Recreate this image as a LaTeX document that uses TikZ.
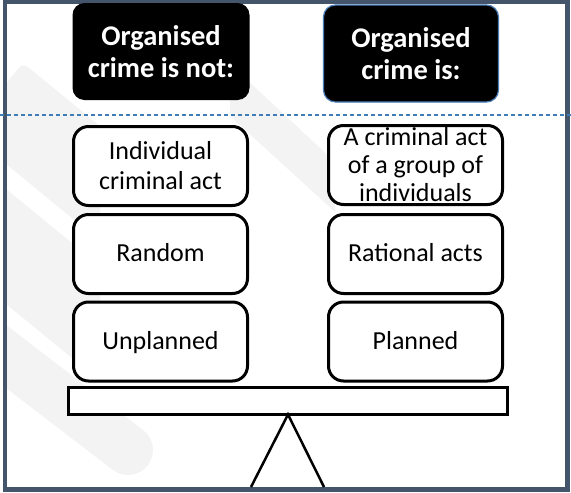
\documentclass[tikz,border=0pt]{standalone}
\usepackage{fontspec}
\setmainfont{Carlito}
\definecolor{framecol}{HTML}{44546A}
\definecolor{dashcol}{HTML}{3E7DB8}
\definecolor{wmcol}{HTML}{F3F3F3}
\definecolor{boxblue}{HTML}{4A7EBB}
\begin{document}
\begin{tikzpicture}[x=1pt,y=-1pt,
  wbox/.style={draw=black, line width=3pt, rounded corners=15pt, fill=white,
    minimum width=174pt, minimum height=79pt, align=center, inner sep=0pt,
    font=\fontsize{26}{30}\selectfont},
  oneline/.style={text height=19.5pt, text depth=4.5pt},
  bbox/.style={fill=black, rounded corners=12pt, text=white, inner sep=0pt,
    minimum width=177pt, minimum height=97pt, align=center,
    font=\bfseries\fontsize{28.5}{32}\selectfont},
  wmark/.style={fill=wmcol, draw=none},
  beamstyle/.style={draw=black, line width=3pt, fill=white, minimum width=439pt,
    minimum height=27pt, inner sep=0pt},
  standline/.style={draw=black, line width=2.5pt},
  divider/.style={draw=dashcol, line width=1.2pt, dash pattern=on 4pt off 3pt}
]
\useasboundingbox (0,0) rectangle (571,493);
\fill[white] (0,0) rectangle (571,493);
% watermark
\begin{scope}
\clip (7,4) rectangle (565,487);
\fill[wmark, rounded corners=6pt] (0,91) -- (23,63) -- (100,126) -- (100,241) -- (0,159) -- cycle;
\fill[wmark] (0,184) -- (100,266) -- (100,381) -- (0,299) -- cycle;
\draw[wmcol, line width=50pt, line cap=round] (-5,348) -- (128,450);
\fill[wmark] (230,64) -- (335,162) -- (335,212) -- (230,116) -- cycle;
\end{scope}
% frame
\draw[framecol, line width=4.5pt] (5,2) rectangle (567.5,489.5);
% divider
\coordinate (dl) at (0,115);
\coordinate (dr) at (571,115);
\draw[divider] (dl) -- (dr);
% headers
\node[bbox] (hnot) at (161,51.5) {Organised\\crime is not:};
\node[bbox, draw=boxblue, line width=1.2pt, minimum width=175pt] (his) at (411,53.5) {Organised\\crime is:};
% left column
\node[wbox] (l1) at (160.5,166) {Individual\\criminal act};
\node[wbox, oneline] (l2) at (160.5,254) {Random};
\node[wbox, oneline] (l3) at (160.5,341.5) {Unplanned};
% right column
\node[wbox, font=\fontsize{26}{28}\selectfont] (r1) at (415.5,165) {A criminal act\\of a group of\\individuals};
\node[wbox, oneline] (r2) at (415.5,254) {Rational acts};
\node[wbox, oneline] (r3) at (415.5,341.5) {Planned};
% beam and stand
\node[beamstyle] (beam) at (288,401) {};
\coordinate (apex) at (288,414.5);
\coordinate (bl) at (251,487);
\coordinate (br) at (324,487);
\draw[standline] (bl) -- (apex) -- (br);
\end{tikzpicture}
\end{document}
